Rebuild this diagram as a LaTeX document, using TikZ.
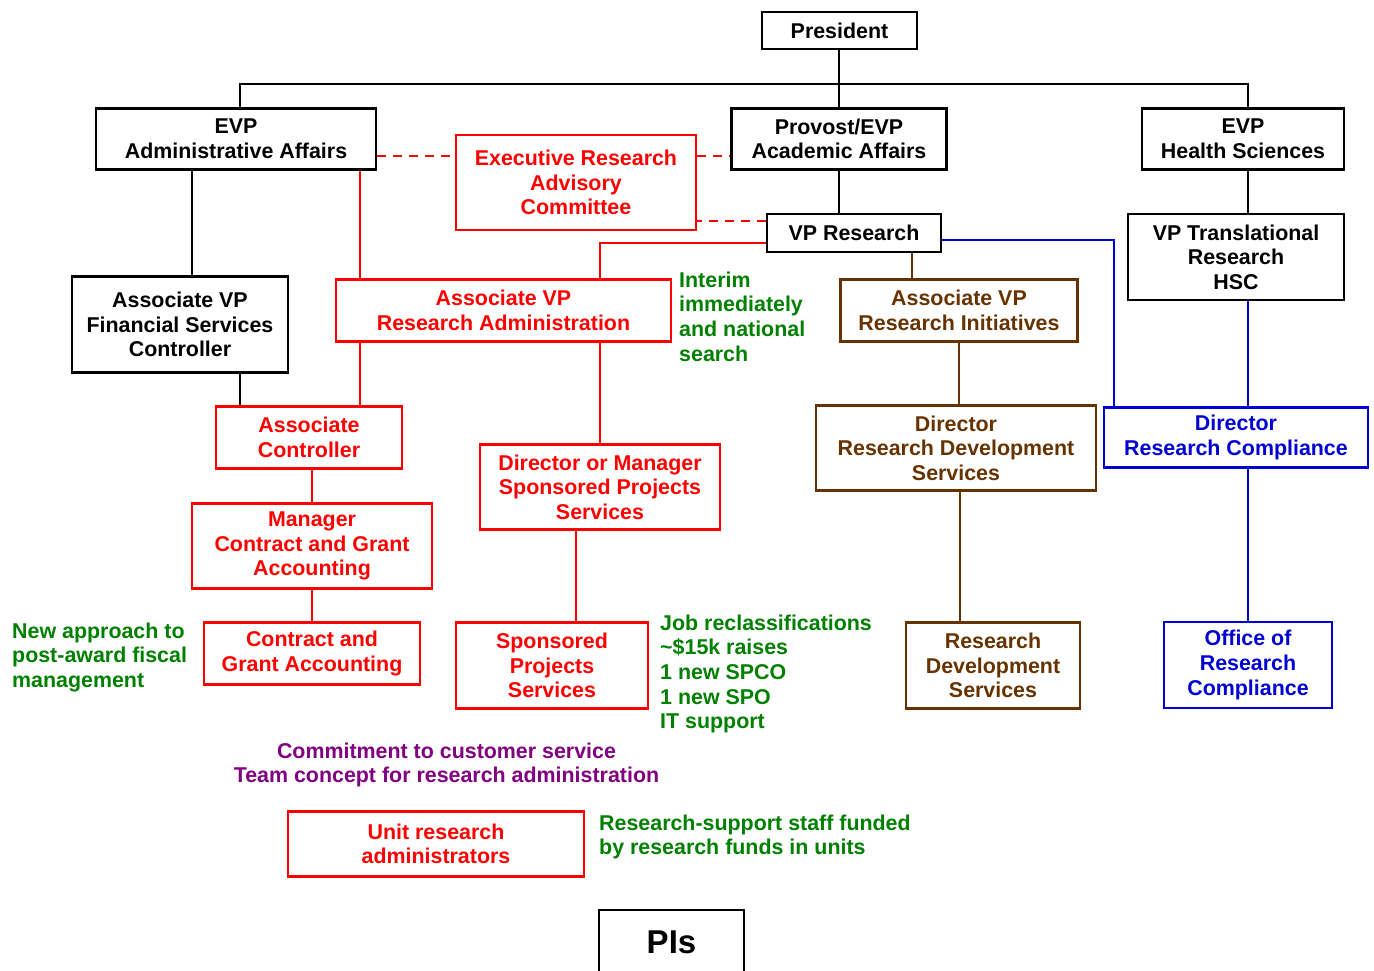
\documentclass[tikz,border=0pt]{standalone}
\usepackage{fontspec}
\setmainfont{Liberation Sans}
\usetikzlibrary{calc}
\definecolor{cred}{RGB}{255,0,0}
\definecolor{cgreen}{RGB}{0,128,0}
\definecolor{cbrown}{RGB}{102,51,0}
\definecolor{cblue}{RGB}{0,0,210}
\definecolor{cpurple}{RGB}{128,0,128}
\tikzset{
  box/.style={draw, line width=2.7pt, inner sep=0pt, align=center,
    font=\fontsize{21.4}{24.6}\selectfont\bfseries},
  blkbox/.style={box, draw=black, text=black},
  redbox/.style={box, draw=cred, text=cred},
  brnbox/.style={box, draw=cbrown, text=cbrown},
  blubox/.style={box, draw=cblue, text=cblue},
  link/.style={line width=2.4pt},
  blk/.style={link, draw=black},
  rd/.style={link, draw=cred},
  rddash/.style={link, draw=cred, dash pattern=on 9pt off 7pt},
  brn/.style={link, draw=cbrown},
  blu/.style={link, draw=cblue},
  note/.style={inner sep=0pt, align=left, anchor=north west,
    font=\fontsize{21.4}{24.6}\selectfont\bfseries},
}
\begin{document}
\begin{tikzpicture}[x=1pt,y=-1pt]
\useasboundingbox (0,0) rectangle (1374,970);
\clip (0,0) rectangle (1374,970);
% boxes
\node[blkbox, minimum width=155, minimum height=37] (pres) at (839.5,30.5) {President};
\node[blkbox, minimum width=280, minimum height=61] (evpa) at (236,139) {EVP\\Administrative Affairs};
\node[blkbox, minimum width=215, minimum height=61] (prov) at (839,139) {Provost/EVP\\Academic Affairs};
\node[blkbox, minimum width=202, minimum height=61] (evph) at (1243,139) {EVP\\Health Sciences};
\node[redbox, minimum width=240, minimum height=95] (erac) at (576,182.5) {Executive Research\\Advisory\\Committee};
\node[blkbox, minimum width=174, minimum height=38] (vpr) at (854,233) {VP Research};
\node[blkbox, minimum width=216, minimum height=86] (vptr) at (1236,257) {VP Translational\\Research\\HSC};
\node[blubox, minimum width=264, minimum height=60] (drc) at (1236,437.5) {Director\\Research Compliance};
\node[blubox, minimum width=168, minimum height=86] (orc) at (1248,665) {Office of\\Research\\Compliance};
\node[brnbox, minimum width=237, minimum height=62] (avpri) at (959,310.5) {Associate VP\\Research Initiatives};
\node[brnbox, minimum width=280, minimum height=85] (drds) at (956,448) {Director\\Research Development\\Services};
\node[brnbox, minimum width=174, minimum height=86] (rds) at (993,665.5) {Research\\Development\\Services};
\node[redbox, minimum width=335, minimum height=62] (avpra) at (503.5,310.5) {Associate VP\\Research Administration};
\node[blkbox, minimum width=216, minimum height=96] (avpfs) at (180,324.5) {Associate VP\\Financial Services\\Controller};
\node[redbox, minimum width=186, minimum height=62] (ac) at (309,437.5) {Associate\\Controller};
\node[redbox, minimum width=240, minimum height=85] (mcga) at (312,546) {Manager\\Contract and Grant\\Accounting};
\node[redbox, minimum width=216, minimum height=62] (cga) at (312,653.5) {Contract and\\Grant Accounting};
\node[redbox, minimum width=240, minimum height=85] (dsps) at (600,487) {Director or Manager\\Sponsored Projects\\Services};
\node[redbox, minimum width=192, minimum height=86] (sps) at (552,665.5) {Sponsored\\Projects\\Services};
\node[redbox, minimum width=296, minimum height=65] (ura) at (436,844) {Unit research\\administrators};
\node[blkbox, minimum width=145, minimum height=90] (pis) at (671.5,955) {};
\node[inner sep=0pt, font=\fontsize{33}{36}\selectfont\bfseries] (pist) at (671.5,942) {PIs};
% notes
\node[note, text=cgreen] (n1) at (679,271.5) {Interim\\immediately\\and national\\search};
\node[note, text=cgreen] (n2) at (12,622.5) {New approach to\\post-award fiscal\\management};
\node[note, text=cgreen] (n3) at (660,614.5) {Job reclassifications\\\textasciitilde\$15k raises\\1 new SPCO\\1 new SPO\\IT support};
\node[inner sep=0pt, align=center, anchor=north, text=cpurple, font=\fontsize{21.4}{24.6}\selectfont\bfseries] (n4) at (446.5,742.5) {Commitment to customer service\\Team concept for research administration};
\node[note, text=cgreen] (n5) at (599,814.5) {Research-support staff funded\\by research funds in units};
% connectors
\coordinate (bus) at (839,84);
\draw[blk] (prov.north |- pres.south) -- (prov.north);
\draw[blk] ([xshift=4pt]evpa.north) |- (bus) -| ([xshift=5pt]evph.north);
\draw[blk] ([xshift=-44pt]evpa.south) -- ([xshift=12pt]avpfs.north);
\draw[rd] ([xshift=124pt]evpa.south) -- ([xshift=-143.5pt]avpra.north);
\draw[rddash] ($(evpa.east)+(0,17)$) coordinate (d1) -- (d1 -| erac.west);
\draw[rddash] (erac.east |- d1) -- (d1 -| prov.west);
\draw[rddash] ($(vpr.west)+(0,-12)$) coordinate (d2) -- (d2 -| erac.east);
\draw[blk] (prov.south) -- (prov.south |- vpr.north);
\draw[blk] ([xshift=5pt]evph.south) -- ([xshift=12pt]vptr.north);
\draw[rd] ($(vpr.west)+(0,10)$) -| ([xshift=96.5pt]avpra.north);
\draw[brn] ([xshift=58pt]vpr.south) coordinate (b1) -- (b1 |- avpri.north);
\draw[brn] (avpri.south) -- (avpri.south |- drds.north);
\draw[brn] ([xshift=4pt]drds.south) coordinate (b2) -- (b2 |- rds.north);
\draw[blu] ($(vpr.east)+(0,7)$) -| ([xshift=-122pt]drc.north);
\draw[blu] ([xshift=12pt]vptr.south) coordinate (u1) -- (u1 |- drc.north);
\draw[blu] ([xshift=12pt]drc.south) -- (orc.north);
\draw[rd] ([xshift=-143.5pt]avpra.south) coordinate (r1) -- (r1 |- ac.north);
\draw[blk] ([xshift=60pt]avpfs.south) coordinate (k1) -- (k1 |- ac.north);
\draw[rd] ([xshift=3pt]ac.south) coordinate (r2) -- (r2 |- mcga.north);
\draw[rd] (mcga.south) -- (cga.north);
\draw[rd] ([xshift=96.5pt]avpra.south) -- (dsps.north);
\draw[rd] ([xshift=-24pt]dsps.south) coordinate (r3) -- (r3 |- sps.north);
\end{tikzpicture}
\end{document}
